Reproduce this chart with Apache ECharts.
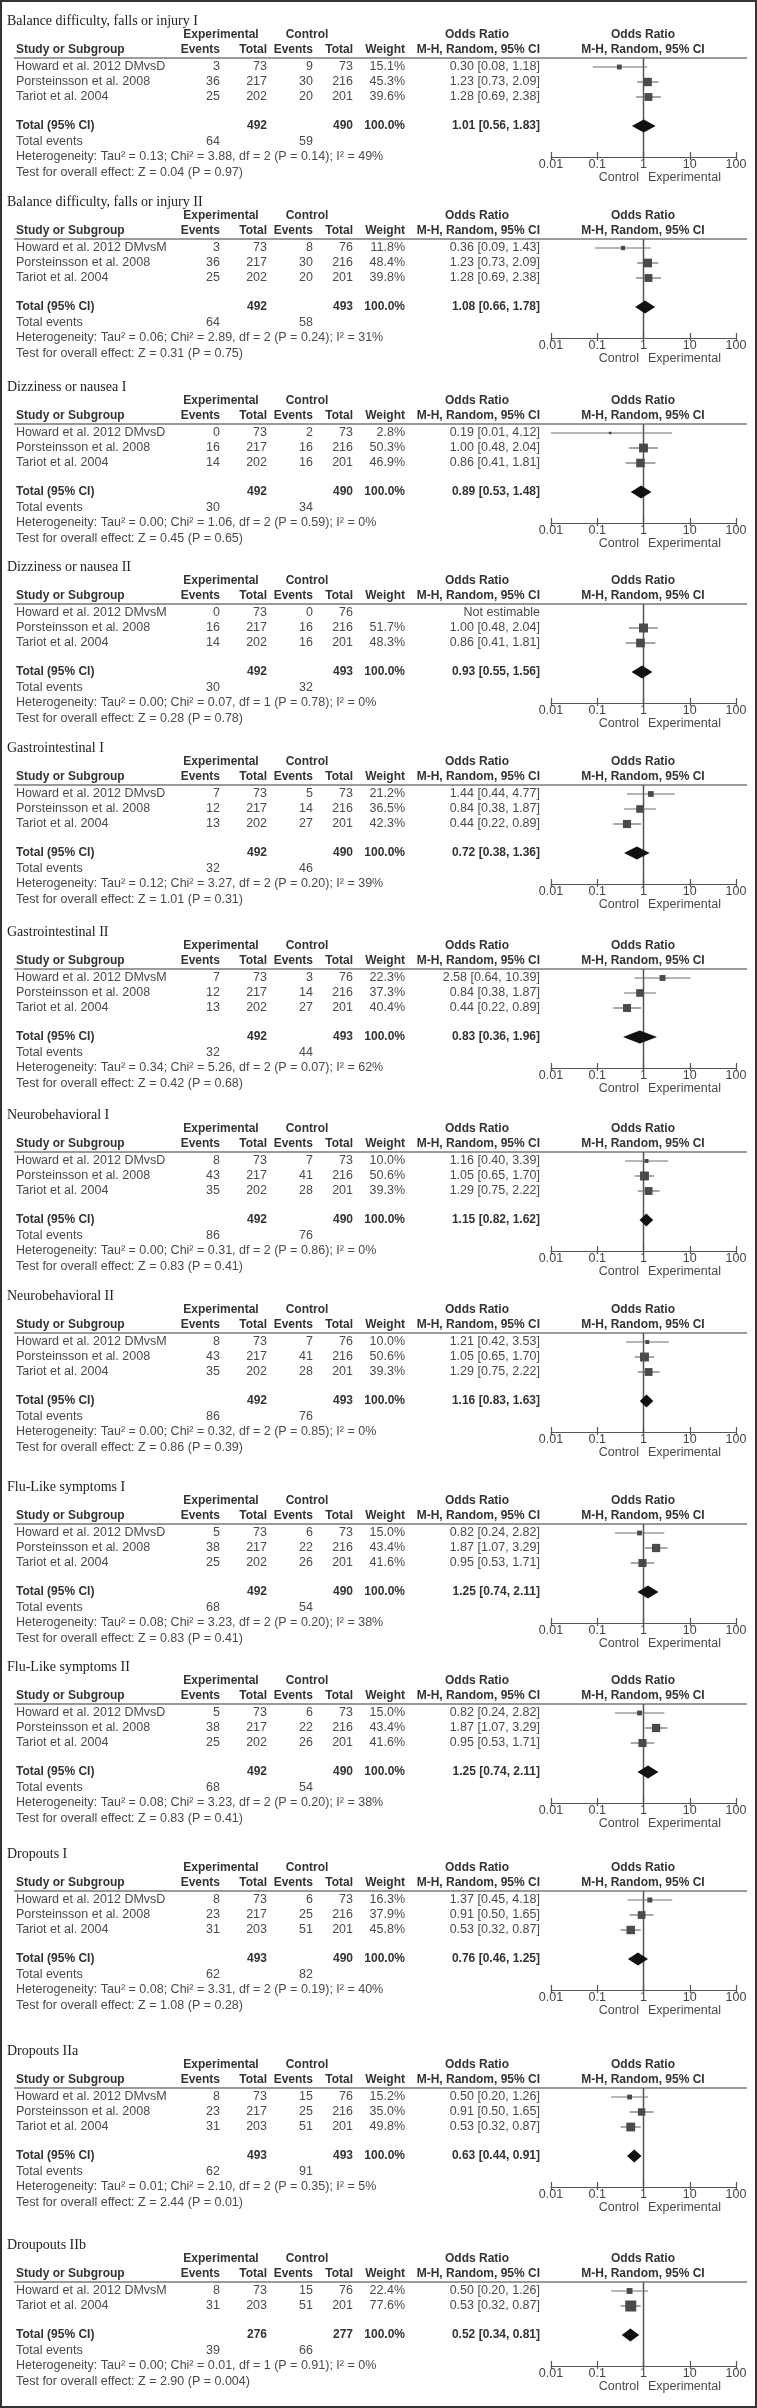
<!DOCTYPE html>
<html><head><meta charset="utf-8">
<script src="https://cdn.jsdelivr.net/npm/echarts@6/dist/echarts.min.js"></script>
<style>html,body{margin:0;padding:0;background:#fff}#c{width:757px;height:2408px}</style>
</head><body><div id="c"></div><script>
// ---------- DATA ----------
const panelTitles = ['Balance difficulty, falls or injury I','Balance difficulty, falls or injury II','Dizziness or nausea I','Dizziness or nausea II','Gastrointestinal I','Gastrointestinal II','Neurobehavioral I','Neurobehavioral II','Flu-Like symptoms I','Flu-Like symptoms II','Dropouts I','Dropouts IIa','Droupouts IIb'];
const HD = 'Howard et al. 2012 DMvsD', HM = 'Howard et al. 2012 DMvsM', PO = 'Porsteinsson et al. 2008', TA = 'Tariot et al. 2004';
const studyNames = [[HD,PO,TA],[HM,PO,TA],[HD,PO,TA],[HM,PO,TA],[HD,PO,TA],[HM,PO,TA],[HD,PO,TA],[HM,PO,TA],[HD,PO,TA],[HD,PO,TA],[HD,PO,TA],[HM,PO,TA],[HM,TA]];
const expEvents = [[3,36,25],[3,36,25],[0,16,14],[0,16,14],[7,12,13],[7,12,13],[8,43,35],[8,43,35],[5,38,25],[5,38,25],[8,23,31],[8,23,31],[8,31]];
const expTotals = [[73,217,202],[73,217,202],[73,217,202],[73,217,202],[73,217,202],[73,217,202],[73,217,202],[73,217,202],[73,217,202],[73,217,202],[73,217,203],[73,217,203],[73,203]];
const ctlEvents = [[9,30,20],[8,30,20],[2,16,16],[0,16,16],[5,14,27],[3,14,27],[7,41,28],[7,41,28],[6,22,26],[6,22,26],[6,25,51],[15,25,51],[15,51]];
const ctlTotals = [[73,216,201],[76,216,201],[73,216,201],[76,216,201],[73,216,201],[76,216,201],[73,216,201],[76,216,201],[73,216,201],[73,216,201],[73,216,201],[76,216,201],[76,201]];
const weights = [[15.1,45.3,39.6],[11.8,48.4,39.8],[2.8,50.3,46.9],[null,51.7,48.3],[21.2,36.5,42.3],[22.3,37.3,40.4],[10.0,50.6,39.3],[10.0,50.6,39.3],[15.0,43.4,41.6],[15.0,43.4,41.6],[16.3,37.9,45.8],[15.2,35.0,49.8],[22.4,77.6]];
const oddsRatios = [[0.30,1.23,1.28],[0.36,1.23,1.28],[0.19,1.00,0.86],[null,1.00,0.86],[1.44,0.84,0.44],[2.58,0.84,0.44],[1.16,1.05,1.29],[1.21,1.05,1.29],[0.82,1.87,0.95],[0.82,1.87,0.95],[1.37,0.91,0.53],[0.50,0.91,0.53],[0.50,0.53]];
const ciLower = [[0.08,0.73,0.69],[0.09,0.73,0.69],[0.01,0.48,0.41],[null,0.48,0.41],[0.44,0.38,0.22],[0.64,0.38,0.22],[0.40,0.65,0.75],[0.42,0.65,0.75],[0.24,1.07,0.53],[0.24,1.07,0.53],[0.45,0.50,0.32],[0.20,0.50,0.32],[0.20,0.32]];
const ciUpper = [[1.18,2.09,2.38],[1.43,2.09,2.38],[4.12,2.04,1.81],[null,2.04,1.81],[4.77,1.87,0.89],[10.39,1.87,0.89],[3.39,1.70,2.22],[3.53,1.70,2.22],[2.82,3.29,1.71],[2.82,3.29,1.71],[4.18,1.65,0.87],[1.26,1.65,0.87],[1.26,0.87]];
const totalExp = [492,492,492,492,492,492,492,492,492,492,493,493,276];
const totalCtl = [490,493,490,493,490,493,490,493,490,490,490,493,277];
const totalOR = [1.01,1.08,0.89,0.93,0.72,0.83,1.15,1.16,1.25,1.25,0.76,0.63,0.52];
const totalLower = [0.56,0.66,0.53,0.55,0.38,0.36,0.82,0.83,0.74,0.74,0.46,0.44,0.34];
const totalUpper = [1.83,1.78,1.48,1.56,1.36,1.96,1.62,1.63,2.11,2.11,1.25,0.91,0.81];
const totalEventsExp = [64,64,30,30,32,32,86,86,68,68,62,62,39];
const totalEventsCtl = [59,58,34,32,46,44,76,76,54,54,82,91,66];
const tau2 = ['0.13','0.06','0.00','0.00','0.12','0.34','0.00','0.00','0.08','0.08','0.08','0.01','0.00'];
const chi2 = ['3.88','2.89','1.06','0.07','3.27','5.26','0.31','0.32','3.23','3.23','3.31','2.10','0.01'];
const dfs = [2,2,2,1,2,2,2,2,2,2,2,2,1];
const hetP = ['0.14','0.24','0.59','0.78','0.20','0.07','0.86','0.85','0.20','0.20','0.19','0.35','0.91'];
const iSquared = ['49%','31%','0%','0%','39%','62%','0%','0%','38%','38%','40%','5%','0%'];
const zValues = ['0.04','0.31','0.45','0.28','1.01','0.42','0.83','0.86','0.83','0.83','1.08','2.44','2.90'];
const zP = ['0.97','0.75','0.65','0.78','0.31','0.68','0.41','0.39','0.41','0.41','0.28','0.01','0.004'];
const tickLabels = ['0.01','0.1','1','10','100'];

// ---------- LAYOUT ----------
const panelTops = [21,202,387,567,748,932,1115,1296,1487,1667,1854,2051,2245];
const SANS = '"Liberation Sans", Arial, sans-serif';
const F = '12.5px ' + SANS, FB = 'bold 12px ' + SANS, FT = '14px "Liberation Serif", "Times New Roman", serif';
const C_TXT = '#4a4a4a', C_HDR = '#333';
const COL = {expEv:220, expTot:267, ctlEv:313, ctlTot:353, wt:405, or:540, expHdr:221, ctlHdr:307, orHdr:477, plot:643};

const graphics = [];
function txt(x, y, s, font, align, color) {
  graphics.push({type:'text', x:x, y:y, silent:true,
    style:{text:String(s), font:font, fill:color || C_TXT, align:align || 'left', verticalAlign:'middle', textAlign:align || 'left', textVerticalAlign:'middle'}});
}
const fmtCI = (o,l,h) => o.toFixed(2) + ' [' + l.toFixed(2) + ', ' + h.toFixed(2) + ']';

const grids = [], xAxes = [], yAxes = [], series = [];
panelTitles.forEach((title, p) => {
  const P = panelTops[p];
  const n = studyNames[p].length;
  const d = 15 * (3 - n);
  txt(7, P, title, FT, 'left', '#222');
  txt(COL.expHdr, P + 14, 'Experimental', FB, 'center', C_HDR);
  txt(COL.ctlHdr, P + 14, 'Control', FB, 'center', C_HDR);
  txt(COL.orHdr, P + 14, 'Odds Ratio', FB, 'center', C_HDR);
  txt(COL.plot, P + 14, 'Odds Ratio', FB, 'center', C_HDR);
  txt(16, P + 29, 'Study or Subgroup', FB, 'left', C_HDR);
  txt(COL.expEv, P + 29, 'Events', FB, 'right', C_HDR);
  txt(COL.expTot, P + 29, 'Total', FB, 'right', C_HDR);
  txt(COL.ctlEv, P + 29, 'Events', FB, 'right', C_HDR);
  txt(COL.ctlTot, P + 29, 'Total', FB, 'right', C_HDR);
  txt(COL.wt, P + 29, 'Weight', FB, 'right', C_HDR);
  txt(COL.or, P + 29, 'M-H, Random, 95% CI', FB, 'right', C_HDR);
  txt(COL.plot, P + 29, 'M-H, Random, 95% CI', FB, 'center', C_HDR);
  graphics.push({type:'line', silent:true, shape:{x1:14, y1:P + 37, x2:747, y2:P + 37}, style:{stroke:'#7a7a7a', lineWidth:1.5}});
  studyNames[p].forEach((name, i) => {
    const y = P + 46 + 15 * i;
    txt(16, y, name, F);
    txt(COL.expEv, y, expEvents[p][i], F, 'right');
    txt(COL.expTot, y, expTotals[p][i], F, 'right');
    txt(COL.ctlEv, y, ctlEvents[p][i], F, 'right');
    txt(COL.ctlTot, y, ctlTotals[p][i], F, 'right');
    if (weights[p][i] != null) {
      txt(COL.wt, y, weights[p][i].toFixed(1) + '%', F, 'right');
      txt(COL.or, y, fmtCI(oddsRatios[p][i], ciLower[p][i], ciUpper[p][i]), F, 'right');
    } else {
      txt(COL.or, y, 'Not estimable', F, 'right');
    }
  });
  const yT = P + 105 - d;
  txt(16, yT, 'Total (95% CI)', FB, 'left', C_HDR);
  txt(COL.expTot, yT, totalExp[p], FB, 'right', C_HDR);
  txt(COL.ctlTot, yT, totalCtl[p], FB, 'right', C_HDR);
  txt(COL.wt, yT, '100.0%', FB, 'right', C_HDR);
  txt(COL.or, yT, fmtCI(totalOR[p], totalLower[p], totalUpper[p]), FB, 'right', C_HDR);
  txt(16, P + 121 - d, 'Total events', F);
  txt(COL.expEv, P + 121 - d, totalEventsExp[p], F, 'right');
  txt(COL.ctlEv, P + 121 - d, totalEventsCtl[p], F, 'right');
  txt(16, P + 136 - d, 'Heterogeneity: Tau\u00b2 = ' + tau2[p] + '; Chi\u00b2 = ' + chi2[p] + ', df = ' + dfs[p] + ' (P = ' + hetP[p] + '); I\u00b2 = ' + iSquared[p], F);
  txt(16, P + 152 - d, 'Test for overall effect: Z = ' + zValues[p] + ' (P = ' + zP[p] + ')', F);
  txt(639, P + 157 - d, 'Control', F, 'right');
  txt(648, P + 157 - d, 'Experimental', F, 'left');

  const H = 99 - d;
  grids.push({left:551, width:185, top:P + 37, height:H});
  const gi = xAxes.length;
  xAxes.push({type:'log', logBase:10, min:0.01, max:100, gridIndex:p, position:'bottom',
    axisLine:{show:true, onZero:false, lineStyle:{color:'#555', width:1.2}},
    axisTick:{show:true, inside:true, length:5, lineStyle:{color:'#555', width:1.2}},
    minorTick:{show:false}, splitLine:{show:false},
    axisLabel:{show:true, margin:1, fontSize:12.5, fontFamily:SANS, color:'#444',
      formatter: v => tickLabels[Math.round(Math.log10(v)) + 2]}});
  // lower half of the crossing tick marks
  xAxes.push({type:'log', logBase:10, min:0.01, max:100, gridIndex:p, position:'bottom',
    axisLine:{show:false, onZero:false}, axisLabel:{show:false}, splitLine:{show:false}, minorTick:{show:false},
    axisTick:{show:true, inside:false, length:3, lineStyle:{color:'#555', width:1.2}}});
  yAxes.push({type:'value', gridIndex:p, inverse:true, min:0, max:H, show:false});

  const rows = [];
  studyNames[p].forEach((nm, i) => {
    if (oddsRatios[p][i] != null) rows.push([oddsRatios[p][i], ciLower[p][i], ciUpper[p][i], 9 + 15 * i, weights[p][i]]);
  });
  series.push({type:'line', xAxisIndex:gi, yAxisIndex:p, data:[[1, 0], [1, H]], symbol:'none', silent:true,
    lineStyle:{color:'#555', width:1.5}, z:1});
  series.push({type:'custom', xAxisIndex:gi, yAxisIndex:p, data:rows, encode:{x:[0,1,2], y:3}, silent:true, z:3,
    renderItem: function (params, api) {
      const y = api.value(3), w = api.value(4);
      const c = api.coord([api.value(0), y]), l = api.coord([api.value(1), y]), h = api.coord([api.value(2), y]);
      const s = Math.max(2.5, 1.25 * Math.sqrt(w));
      return {type:'group', children:[
        {type:'line', shape:{x1:l[0], y1:c[1], x2:h[0], y2:c[1]}, style:{stroke:'#6e6e6e', lineWidth:1.2}},
        {type:'rect', shape:{x:c[0] - s / 2, y:c[1] - s / 2, width:s, height:s}, style:{fill:'#4a4a4a'}}
      ]};
    }});
  series.push({type:'custom', xAxisIndex:gi, yAxisIndex:p,
    data:[[totalOR[p], totalLower[p], totalUpper[p], 9 + 15 * (n - 1) + 29]], encode:{x:[0,1,2], y:3}, silent:true, z:4,
    renderItem: function (params, api) {
      const y = api.value(3);
      const c = api.coord([api.value(0), y]), l = api.coord([api.value(1), y]), h = api.coord([api.value(2), y]);
      return {type:'polygon', shape:{points:[[l[0], c[1]], [c[0], c[1] - 6.5], [h[0], c[1]], [c[0], c[1] + 6.5]]}, style:{fill:'#111'}};
    }});
});
graphics.push({type:'rect', silent:true, z:100, shape:{x:1, y:1, width:755, height:2406}, style:{fill:'none', stroke:'#333', lineWidth:2}});

const chart = echarts.init(document.getElementById('c'), null, {renderer:'canvas'});
chart.setOption({animation:false, backgroundColor:'#fff', grid:grids, xAxis:xAxes, yAxis:yAxes, series:series, graphic:graphics});
</script></body></html>
